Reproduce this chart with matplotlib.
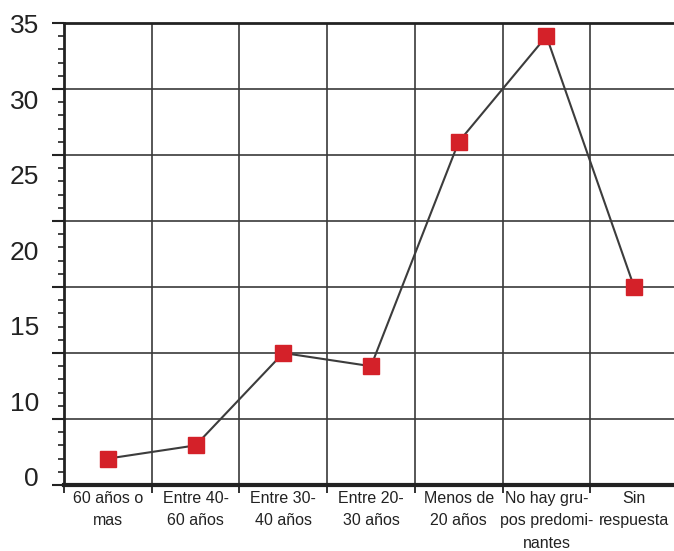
import matplotlib
matplotlib.use("Agg")
import matplotlib.pyplot as plt
import numpy as np

categories = ["60 años o\nmas", "Entre 40-\n60 años", "Entre 30-\n40 años", "Entre 20-\n30 años",
              "Menos de\n20 años", "No hay gru-\npos predomi-\nnantes", "Sin\nrespuesta"]
values = [2, 3, 10, 9, 26, 34, 15]
ytick_labels = ["0", "10", "15", "20", "25", "30", "35"]

fam = ["Liberation Sans", "DejaVu Sans"]
plt.rcParams["font.family"] = fam

fig = plt.figure(figsize=(6.74, 5.51), dpi=100)
ax = fig.add_axes([64/674, (551-485)/551, 614/674, 462/551])

n = len(categories)
x = np.arange(n)
ax.set_xlim(-0.5, n - 0.5)
ax.set_ylim(0, 35)

# grid
for yv in np.arange(5, 35, 5):
    ax.axhline(yv, color="#3a3a3a", lw=1.2, zorder=1)
for xv in np.arange(0.5, n - 0.5, 1):
    ax.axvline(xv, color="#3a3a3a", lw=1.2, zorder=1)

ax.plot(x, values, color="#3c3c3c", lw=1.5, zorder=2)
ax.plot(x, values, ls="none", marker="s", ms=11.3, color="#d42129", mec="#d42129", zorder=3)

for s in ["left", "top", "right", "bottom"]:
    ax.spines[s].set_color("#222222")
ax.spines["left"].set_linewidth(2.0)
ax.spines["top"].set_linewidth(2.0)
ax.spines["bottom"].set_linewidth(3.0)
ax.spines["right"].set_linewidth(2.0)

# y ticks: major at grid lines, minor every 1
ax.set_yticks(np.arange(0, 36, 5))
ax.set_yticks(np.arange(0, 36, 1), minor=True)
ax.yaxis.set_ticklabels([])
ax.tick_params(axis="y", which="major", length=9, width=1.5, color="#222222", direction="out")
ax.tick_params(axis="y", which="minor", length=4.5, width=1.2, color="#222222", direction="out")

# y labels (evenly spread as in reference)
label_pos = np.linspace(0.45, 34.75, len(ytick_labels))
for yp, lab in zip(label_pos, ytick_labels):
    ax.annotate(lab, xy=(0, yp), xycoords=("axes fraction", "data"),
                xytext=(-25, 0), textcoords="offset pixels",
                ha="right", va="center", fontsize=19, color="#222222", family=fam)

# x ticks: major at boundaries, labels at centers
ax.set_xticks(np.arange(-0.5, n, 1))
ax.xaxis.set_ticklabels([])
ax.set_xticks(x, minor=True)
ax.set_xticklabels(categories, minor=True, fontsize=11.5, color="#222222", linespacing=1.65)
ax.tick_params(axis="x", which="major", length=6, width=1.3, color="#222222", direction="out")
ax.tick_params(axis="x", which="minor", length=0, pad=4)

fig.savefig("out.png", dpi=100)
